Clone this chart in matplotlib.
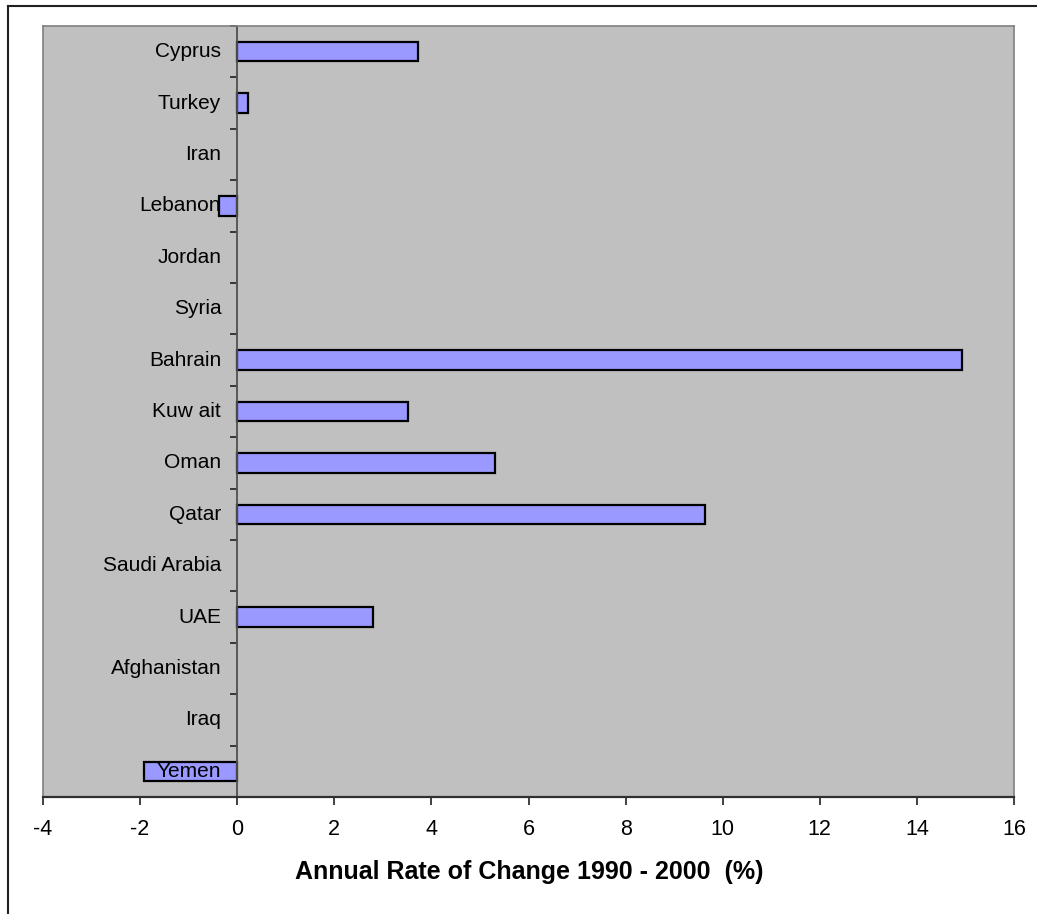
import matplotlib
matplotlib.use('Agg')
import matplotlib.pyplot as plt
from matplotlib.lines import Line2D
import numpy as np

plt.rcParams['font.family'] = ['Liberation Sans', 'DejaVu Sans']

# data (top to bottom as shown)
countries = ['Cyprus', 'Turkey', 'Iran', 'Lebanon', 'Jordan', 'Syria', 'Bahrain',
             'Kuw ait', 'Oman', 'Qatar', 'Saudi Arabia', 'UAE', 'Afghanistan',
             'Iraq', 'Yemen']
rates = [3.72, 0.22, 0, -0.37, 0, 0, 14.93, 3.51, 5.32, 9.63, 0, 2.80, 0, 0, -1.92]
x_ticks = [-4, -2, 0, 2, 4, 6, 8, 10, 12, 14, 16]

W, H = 1037, 914
fig = plt.figure(figsize=(W / 100, H / 100), dpi=100)
ax = fig.add_axes([43 / W, 1 - 797 / H, (1014 - 43) / W, (797 - 26) / H])
ax.set_facecolor('#C0C0C0')

n = len(countries)
y = np.arange(n)[::-1]
vals = np.array(rates)
nz = vals != 0  # zero rates have no visible bar
ax.barh(y[nz], vals[nz], height=0.38, color='#9999FF', edgecolor='black',
        linewidth=1.6, zorder=2)

ax.set_xlim(-4, 16)
ax.set_ylim(-0.5, n - 0.5)

# category labels sit next to the zero line
for yy, name in zip(y, countries):
    z = 1 if name == 'Lebanon' else 3
    ax.annotate(name, xy=(0, yy), xytext=(-11.5, 0), textcoords='offset points',
                ha='right', va='center', fontsize=15, zorder=z)

ax.spines['left'].set_position(('data', 0))
ax.spines['left'].set_color('#505050')
ax.spines['left'].set_linewidth(1.3)
ax.spines['left'].set_zorder(2.5)
ax.set_yticks([])
ax.set_yticks(np.arange(n + 1) - 0.5, minor=True)
ax.tick_params(axis='y', which='minor', length=5, width=1.2, direction='out',
               color='#202020', labelleft=False)

for s in ['top', 'right']:
    ax.spines[s].set_color('#808080')
    ax.spines[s].set_linewidth(1.2)
ax.spines['bottom'].set_color('#303030')
ax.spines['bottom'].set_linewidth(1.6)

ax.set_xticks(x_ticks)
ax.set_xticklabels([str(t) for t in x_ticks])
ax.tick_params(axis='x', length=6, width=1.2, direction='out', color='#202020',
               labelsize=15.5, pad=10)

# plot-area left edge (gray) since left spine moved to zero
ax.add_line(Line2D([0, 0], [0, 1], transform=ax.transAxes, color='#808080',
                   linewidth=1.2, clip_on=False))

fig.text(529 / W, 1 - 872 / H, 'Annual Rate of Change 1990 - 2000  (%)',
         ha='center', va='center', fontsize=18, fontweight='bold')

# chart-area border (top and left edges visible)
fig.add_artist(Line2D([8 / W, 1.01], [1 - 6 / H, 1 - 6 / H], transform=fig.transFigure,
                      color='#202020', linewidth=1.5))
fig.add_artist(Line2D([8 / W, 8 / W], [1 - 6 / H, -0.01], transform=fig.transFigure,
                      color='#202020', linewidth=1.5))

fig.savefig('out.png', dpi=100)
